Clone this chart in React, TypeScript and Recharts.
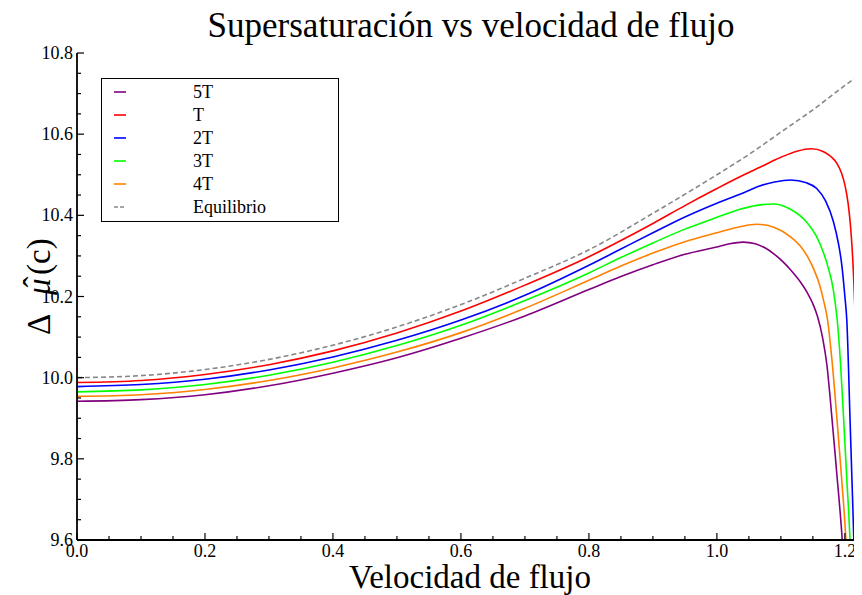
import { LineChart, Line, XAxis, YAxis } from "recharts";

// velocidad de flujo (x) and Δμ̂(c) (y)
const velEq = [0, 0.1, 0.2, 0.3, 0.4, 0.5, 0.6, 0.7, 0.8, 0.9, 1.0, 1.05, 1.1, 1.15, 1.2, 1.233];
const muEq = [10.0, 10.005, 10.02, 10.045, 10.08, 10.125, 10.18, 10.245, 10.315, 10.405, 10.5, 10.55, 10.605, 10.66, 10.72, 10.758];

const velT = [0, 0.1, 0.2, 0.3, 0.4, 0.5, 0.6, 0.7, 0.8, 0.85, 0.9, 0.95, 1.0, 1.036, 1.068, 1.1, 1.125, 1.148, 1.165, 1.178, 1.1875, 1.195, 1.2, 1.205, 1.209, 1.213, 1.216, 1.219, 1.221, 1.223];
const muT = [9.988, 9.993, 10.008, 10.032, 10.066, 10.11, 10.164, 10.228, 10.298, 10.338, 10.38, 10.424, 10.466, 10.495, 10.519, 10.543, 10.558, 10.564, 10.558, 10.545, 10.528, 10.503, 10.475, 10.43, 10.37, 10.27, 10.15, 9.95, 9.6, 9.4];

const vel2T = [0, 0.1, 0.2, 0.3, 0.4, 0.5, 0.6, 0.7, 0.8, 0.85, 0.9, 0.95, 1.0, 1.036, 1.068, 1.09, 1.115, 1.14, 1.156, 1.17, 1.182, 1.19, 1.195, 1.2, 1.203, 1.208, 1.211, 1.214, 1.217];
const mu2T = [9.978, 9.983, 9.996, 10.019, 10.051, 10.092, 10.142, 10.203, 10.277, 10.317, 10.357, 10.396, 10.43, 10.452, 10.473, 10.482, 10.487, 10.48, 10.466, 10.435, 10.385, 10.33, 10.28, 10.2, 10.142, 9.9, 9.75, 9.6, 9.4];

const vel3T = [0, 0.1, 0.2, 0.3, 0.4, 0.5, 0.6, 0.7, 0.8, 0.85, 0.9, 0.95, 1.0, 1.036, 1.06, 1.088, 1.115, 1.141, 1.155, 1.167, 1.175, 1.182, 1.188, 1.193, 1.198, 1.203, 1.208, 1.212];
const mu3T = [9.965, 9.97, 9.983, 10.006, 10.038, 10.079, 10.129, 10.19, 10.258, 10.296, 10.332, 10.366, 10.395, 10.415, 10.424, 10.428, 10.415, 10.382, 10.35, 10.306, 10.265, 10.216, 10.142, 10.04, 9.9, 9.75, 9.6, 9.4];

const vel4T = [0, 0.1, 0.2, 0.3, 0.4, 0.5, 0.6, 0.7, 0.8, 0.85, 0.9, 0.95, 1.0, 1.036, 1.0625, 1.09, 1.115, 1.13, 1.141, 1.152, 1.161, 1.1666, 1.173, 1.18, 1.1875, 1.195, 1.2016, 1.206];
const mu4T = [9.954, 9.958, 9.971, 9.993, 10.024, 10.063, 10.111, 10.171, 10.24, 10.275, 10.307, 10.335, 10.357, 10.372, 10.378, 10.37, 10.347, 10.325, 10.3, 10.265, 10.226, 10.191, 10.142, 10.04, 9.9, 9.75, 9.6, 9.45];

const vel5T = [0, 0.1, 0.2, 0.3, 0.4, 0.5, 0.6, 0.7, 0.8, 0.85, 0.9, 0.95, 1.0, 1.02, 1.041, 1.06, 1.075, 1.09, 1.105, 1.115, 1.13, 1.141, 1.15, 1.157, 1.165, 1.172, 1.177, 1.187, 1.195, 1.2];
const mu5T = [9.942, 9.946, 9.958, 9.98, 10.011, 10.049, 10.097, 10.152, 10.217, 10.249, 10.278, 10.304, 10.322, 10.33, 10.334, 10.33, 10.32, 10.304, 10.283, 10.266, 10.237, 10.21, 10.182, 10.152, 10.1, 10.03, 9.95, 9.77, 9.62, 9.5];

const xTicks = [0, 0.05, 0.1, 0.15, 0.2, 0.25, 0.3, 0.35, 0.4, 0.45, 0.5, 0.55, 0.6, 0.65, 0.7, 0.75, 0.8, 0.85, 0.9, 0.95, 1.0, 1.05, 1.1, 1.15, 1.2];
const xMajor = [0, 0.2, 0.4, 0.6, 0.8, 1.0, 1.2];
const yTicks = [9.6, 9.65, 9.7, 9.75, 9.8, 9.85, 9.9, 9.95, 10.0, 10.05, 10.1, 10.15, 10.2, 10.25, 10.3, 10.35, 10.4, 10.45, 10.5, 10.55, 10.6, 10.65, 10.7, 10.75, 10.8];
const yMajor = [9.6, 9.8, 10.0, 10.2, 10.4, 10.6, 10.8];

const zip = (xs: number[], ys: number[]) => xs.map((x, i) => ({ x, y: ys[i] }));

// legend order as in the figure
const series = [
  { name: "5T", color: "#800080", data: zip(vel5T, mu5T), dash: undefined },
  { name: "T", color: "#ff0000", data: zip(velT, muT), dash: undefined },
  { name: "2T", color: "#0000ff", data: zip(vel2T, mu2T), dash: undefined },
  { name: "3T", color: "#00ff00", data: zip(vel3T, mu3T), dash: undefined },
  { name: "4T", color: "#ff8000", data: zip(vel4T, mu4T), dash: undefined },
  { name: "Equilibrio", color: "#888888", data: zip(velEq, muEq), dash: "5 3" },
];

const FONT = "'Liberation Serif', 'Times New Roman', serif";
const isMajor = (v: number, list: number[]) => list.some((m) => Math.abs(m - v) < 1e-6);

const XTick = (props: any) => {
  const { x, y, payload, top } = props;
  const major = isMajor(payload.value, xMajor);
  const len = major ? 7 : 4;
  return (
    <g>
      <line x1={x} y1={y} x2={x} y2={top ? y + len : y - len} stroke="#000" strokeWidth={1.2} />
      {!top && major && (
        <text x={x} y={y + 17} textAnchor="middle" style={{ fontFamily: FONT }} fontSize={18} fill="#000">
          {payload.value.toFixed(1)}
        </text>
      )}
    </g>
  );
};

const YTick = (props: any) => {
  const { x, y, payload } = props;
  const major = isMajor(payload.value, yMajor);
  const len = major ? 7 : 4;
  return (
    <g>
      <line x1={x} y1={y} x2={x + len} y2={y} stroke="#000" strokeWidth={1.2} />
      {major && (
        <text x={x - 4} y={y + 6} textAnchor="end" style={{ fontFamily: FONT }} fontSize={18} fill="#000">
          {payload.value.toFixed(1)}
        </text>
      )}
    </g>
  );
};

export default function App() {
  return (
    <div style={{ position: "relative", width: 862, height: 595, margin: "-8px 0 0 -8px", overflow: "hidden", background: "#fff" }}>
      <LineChart width={880} height={595} margin={{ top: 53, right: 14, bottom: 0, left: 17 }}>
        <XAxis
          xAxisId={0}
          type="number"
          dataKey="x"
          domain={[0, 1.233]}
          ticks={xTicks}
          interval={0}
          height={55}
          tickSize={0}
          tickMargin={0}
          tickLine={false}
          allowDataOverflow
          axisLine={{ stroke: "#000", strokeWidth: 1.8 }}
          tick={<XTick />}
        />
        <XAxis
          xAxisId="top"
          orientation="top"
          type="number"
          dataKey="x"
          domain={[0, 1.233]}
          ticks={xTicks}
          interval={0}
          height={0}
          tickSize={0}
          tickMargin={0}
          tickLine={false}
          allowDataOverflow
          axisLine={{ stroke: "#000", strokeWidth: 1.8 }}
          tick={<XTick top />}
        />
        <YAxis
          type="number"
          domain={[9.6, 10.8]}
          ticks={yTicks}
          interval={0}
          width={60}
          tickSize={0}
          tickMargin={0}
          tickLine={false}
          allowDataOverflow
          axisLine={{ stroke: "#000", strokeWidth: 1.8 }}
          tick={<YTick />}
        />
        {series.map((s) => (
          <Line
            key={s.name}
            data={s.data}
            dataKey="y"
            type="monotone"
            stroke={s.color}
            strokeWidth={1.6}
            strokeDasharray={s.dash}
            dot={false}
            activeDot={false}
            isAnimationActive={false}
          />
        ))}
      </LineChart>
      <svg width={862} height={595} style={{ position: "absolute", left: 0, top: 0, pointerEvents: "none" }}>
        <text x={471} y={37} textAnchor="middle" fontFamily={FONT} fontSize={35} fill="#000">
          Supersaturación vs velocidad de flujo
        </text>
        <text x={470} y={588} textAnchor="middle" fontFamily={FONT} fontSize={33} fill="#000">
          Velocidad de flujo
        </text>
        <g transform="translate(50, 335) rotate(-90)" fontFamily={FONT} fontSize={33} fill="#000">
          <text x={0} y={0}>Δ</text>
          <text x={40} y={0} fontStyle="italic">μ</text>
          <text x={53} y={-3} textAnchor="middle">ˆ</text>
          <text x={60} y={0}>(c)</text>
        </g>
        <rect x={101.5} y={78.5} width={237} height={143} fill="#fff" stroke="#000" strokeWidth={1} />
        {series.map((s, i) => {
          const ry = 92 + i * 23;
          return (
            <g key={s.name}>
              <line x1={114} y1={ry} x2={126} y2={ry} stroke={s.color} strokeWidth={1.6} strokeDasharray={s.dash ? "4 2" : undefined} />
              <text x={193} y={ry + 6} fontFamily={FONT} fontSize={18} fill="#000">
                {s.name}
              </text>
            </g>
          );
        })}
      </svg>
    </div>
  );
}
